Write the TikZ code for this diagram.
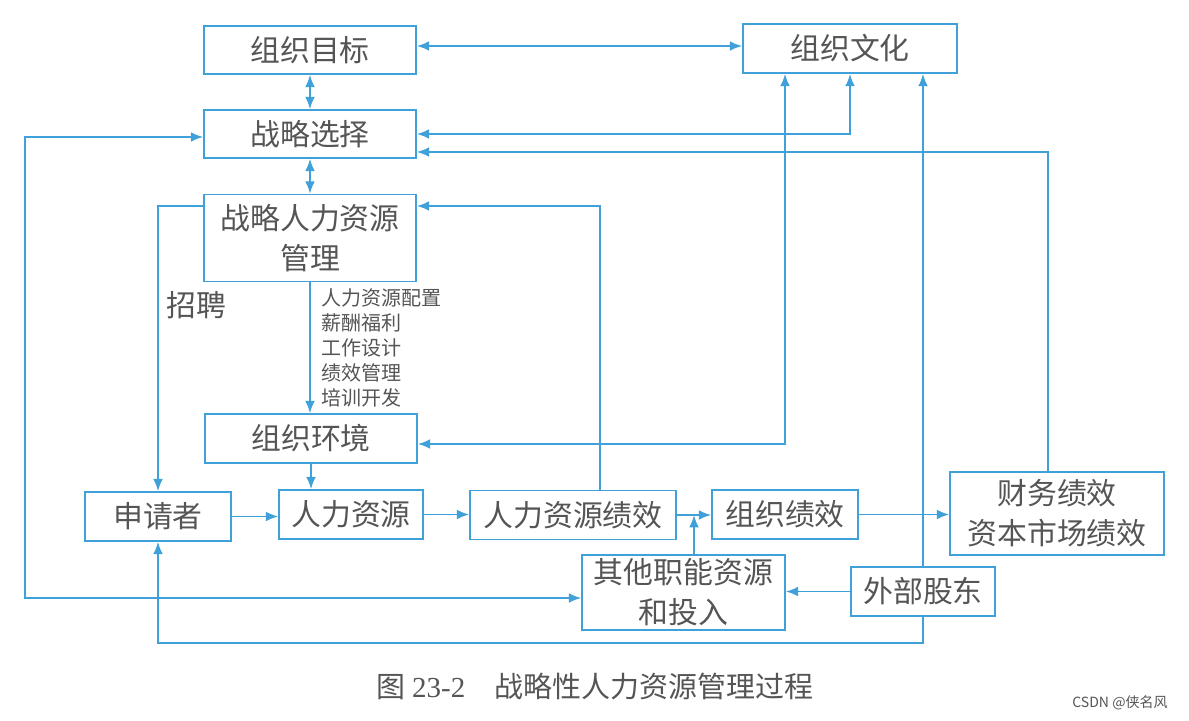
\documentclass[tikz,border=0pt]{standalone}
\usepackage{fontspec}
\setmainfont{Liberation Serif}
\newfontfamily\cjk{Noto Sans CJK SC}
\usepackage{xcolor}
\usepackage{tikz}
\usetikzlibrary{arrows.meta}
\definecolor{lineblue}{RGB}{64,160,218}
\definecolor{txtgray}{RGB}{85,85,85}

\begin{document}
\begin{tikzpicture}[x=0.02cm,y=-0.02cm,>={Latex[length=7pt,width=5.5pt]},
  box/.style={draw=lineblue,line width=0.9pt,text=txtgray,inner sep=0pt,align=center,
    font=\cjk\fontsize{17}{22.8}\selectfont},
  link/.style={draw=lineblue,line width=1pt},
  lbl/.style={text=txtgray,inner sep=0pt,font=\cjk\fontsize{17}{22.8}\selectfont},
  listtxt/.style={text=txtgray,inner sep=0pt,align=left,font=\cjk\fontsize{11.4}{14.2}\selectfont}]
  \useasboundingbox (0,0) rectangle (1189,720);
  \node[box,minimum width=4.24cm,minimum height=0.96cm] (goal) at (310,50){组织目标};
  \node[box,minimum width=4.28cm,minimum height=0.98cm] (culture) at (850,48.5){组织文化};
  \node[box,minimum width=4.24cm,minimum height=0.96cm] (strat) at (310,134){战略选择};
  \node[box,minimum width=4.24cm,minimum height=1.74cm] (shrm) at (310,238){战略人力资源\\管理};
  \node[box,minimum width=4.24cm,minimum height=0.98cm] (env) at (311,438.5){组织环境};
  \node[box,minimum width=2.92cm,minimum height=0.98cm] (applicant) at (158,516.5){申请者};
  \node[box,minimum width=2.88cm,minimum height=0.98cm] (hr) at (351,514.5){人力资源};
  \node[box,minimum width=4.12cm,minimum height=0.98cm] (hrperf) at (573,515){人力资源绩效};
  \node[box,minimum width=2.92cm,minimum height=0.98cm] (orgperf) at (785,514.5){组织绩效};
  \node[box,minimum width=4.28cm,minimum height=1.66cm] (fin) at (1057,513.5){财务绩效\\资本市场绩效};
  \node[box,minimum width=4.06cm,minimum height=1.50cm] (other) at (683.5,592.5){其他职能资源\\和投入};
  \node[box,minimum width=2.88cm,minimum height=0.98cm] (ext) at (923,591.5){外部股东};
  \node[lbl] (recruit) at (196,305){招聘};
  \node[listtxt,anchor=west] (hrmlist) at (321,348){人力资源配置\\薪酬福利\\工作设计\\绩效管理\\培训开发};
  \node[text=txtgray,font=\cjk\fontsize{16.5}{20}\selectfont] (caption) at (595,686)
    {图 {\rmfamily 23-2}\quad 战略性人力资源管理过程};
  \node[text=txtgray,font=\cjk\fontsize{8}{10}\selectfont] (csdn) at (1120,703){CSDN @侠名风};
  \coordinate (toprow) at (0,46);
  \coordinate (stratrow) at (0,137);
  \coordinate (srow) at (0,206);
  \coordinate (lft) at (25,0);
  \coordinate (lowrow) at (0,598);
  \coordinate (btm) at (0,643);
  \coordinate (fbx) at (600,0);
  \coordinate (envrow) at (0,444);
  \coordinate (envx) at (785,0);
  \coordinate (finx) at (1048,0);
  \coordinate (finrow) at (0,152);
  \coordinate (join) at (694,515);
  \draw[link,<->] (goal.east |- toprow) -- (culture.west |- toprow);
  \draw[link,<->] (goal) -- (strat);
  \draw[link,<->] (strat) -- (shrm);
  \draw[link,->] (shrm.south) -- (shrm.south |- env.north);
  \draw[link,->] (env.south) -- (env.south |- hr.north);
  \draw[link,->] (applicant.east) -- (applicant.east -| hr.west);
  \draw[link,->] (hr.east) -- (hr.east -| hrperf.west);
  \draw[link,->] (hrperf.east) -- (hrperf.east -| orgperf.west);
  \draw[link,->] (orgperf.east) -- (orgperf.east -| fin.west);
  \draw[link,->] (other.north -| join) -- (join);
  \draw[link,->] (ext.west) -- (ext.west -| other.east);
  \draw[link,->] (shrm.west |- srow) -| (applicant.north);
  \draw[link,->] (hrperf.north -| fbx) |- (shrm.east |- srow);
  \draw[link,<->] (strat.west |- stratrow) -| (lft |- lowrow) -- (other.west |- lowrow);
  \draw[link,<->] (strat.east) -| (culture.south);
  \draw[link,->] (fin.north -| finx) |- (strat.east |- finrow);
  \draw[link,<->] (env.east |- envrow) -| (culture.south -| envx);
  \draw[link,->] (ext.north) -- (ext.north |- culture.south);
  \draw[link,->] (ext.south) -- (ext.south |- btm) -| (applicant.south);
\end{tikzpicture}
\end{document}
